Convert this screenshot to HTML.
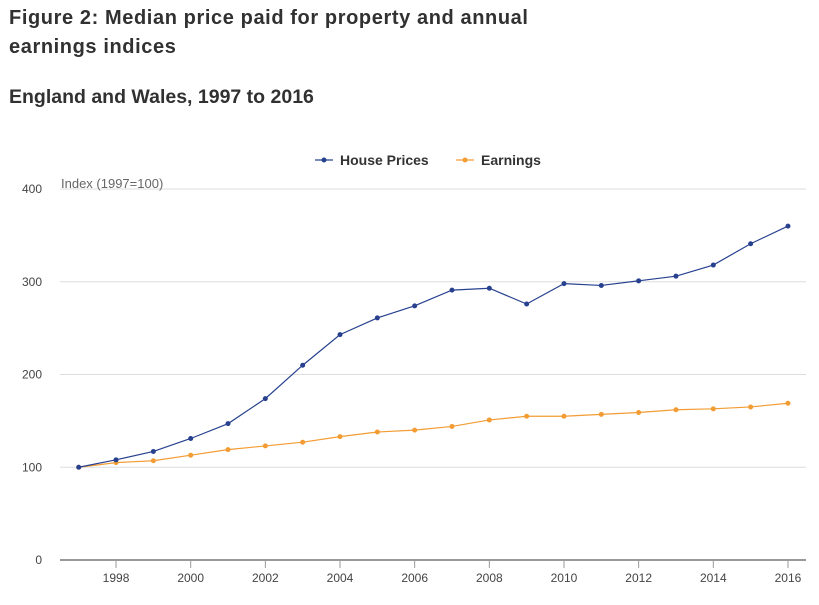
<!DOCTYPE html>
<html><head><meta charset="utf-8"><style>
body{margin:0;background:#fff;width:819px;height:605px;overflow:hidden;font-family:"Liberation Sans",sans-serif;color:#333}
h1{position:absolute;left:9px;top:4px;margin:0;font-size:20px;line-height:29px;font-weight:bold;color:#323132;letter-spacing:0.6px}
h2{position:absolute;left:9px;top:86px;margin:0;font-size:19.5px;font-weight:bold;color:#323132}
svg{position:absolute;left:0;top:0}
</style></head><body>
<h1>Figure 2: Median price paid for property and annual<br>earnings indices</h1>
<h2>England and Wales, 1997 to 2016</h2>
<svg id="c" width="819" height="605"></svg>
<script>
const years=[1997,1998,1999,2000,2001,2002,2003,2004,2005,2006,2007,2008,2009,2010,2011,2012,2013,2014,2015,2016];
const housePrices=[100,108,117,131,147,174,210,243,261,274,291,293,276,298,296,301,306,318,341,360];
const earnings=[100,105,107,113,119,123,127,133,138,140,144,151,155,155,157,159,162,163,165,169];
const yTicks=[0,100,200,300,400];
const xTicks=[1998,2000,2002,2004,2006,2008,2010,2012,2014,2016];
const NS='http://www.w3.org/2000/svg';
const svg=document.getElementById('c');
const xs=y=>78.7+(y-1997)*37.33;
const ys=v=>560-v*0.9275;
function mk(t,a){const e=document.createElementNS(NS,t);for(const k in a)e.setAttribute(k,a[k]);svg.appendChild(e);return e;}
yTicks.forEach(v=>{
 const g=mk('line',{x1:60,x2:806,y1:ys(v),y2:ys(v),stroke:v===0?'#999':'#ddd','stroke-width':v===0?2:1});
 
 
 const t=mk('text',{x:42,y:ys(v)+4,'text-anchor':'end','font-size':12,fill:'#444'});t.textContent=v;
 
 
});
xTicks.forEach(y=>{
 const l=mk('line',{x1:xs(y),x2:xs(y),y1:560,y2:568,stroke:'#999'});
 
 
 const t=mk('text',{x:xs(y),y:582,'text-anchor':'middle','font-size':12,fill:'#444'});t.textContent=y;
 
 
});
const yt=mk('text',{x:61,y:188,'font-size':13,fill:'#666'});yt.textContent='Index (1997=100)';


function series(vals,col,name){
 const p=mk('polyline',{points:vals.map((v,i)=>xs(years[i])+','+ys(v)).join(' '),fill:'none',stroke:col,'stroke-width':1.2});
 
 
 vals.forEach((v,i)=>{const c=mk('circle',{cx:xs(years[i]),cy:ys(v),r:2.5,fill:col});
 
 });
}
series(earnings,'#f39c33','earnings');
series(housePrices,'#27418f','house-prices');
[[315,'#27418f','House Prices','legend-house-prices'],[456,'#f39c33','Earnings','legend-earnings']].forEach(([x,c,l,n])=>{
 const li=mk('line',{x1:x,x2:x+18,y1:160,y2:160,stroke:c,'stroke-width':1.2});
 
 
 const ci=mk('circle',{cx:x+9,cy:160,r:2.5,fill:c});
 
 
 const t=mk('text',{x:x+25,y:165,'font-size':14,'font-weight':'bold',fill:'#333'});t.textContent=l;
 
 
});
</script>
</body></html>
